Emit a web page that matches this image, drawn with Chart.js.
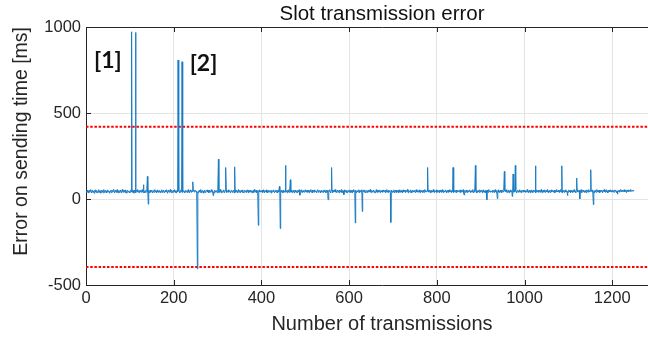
<!DOCTYPE html>
<html>
<head>
<meta charset="utf-8">
<script src="https://cdn.jsdelivr.net/npm/chart.js@4.4.1/dist/chart.umd.min.js"></script>
<style>
  html, body { margin: 0; padding: 0; background: #ffffff; overflow: hidden; }
  #wrap { width: 690px; height: 338px; }
</style>
</head>
<body>
<div id="wrap"><canvas id="c" width="690" height="338"></canvas></div>
<script>
// Tick values of both axes
const xTicks = [0, 200, 400, 600, 800, 1000, 1200];
const yTicks = [-500, 0, 500, 1000];

// Sending-time error [ms] for transmissions 0..1249
const baseline = [
  44,38,47,52,41,35,46,50,43,39,48,55,42,36,45,51,40,47,44,33,49,53,41,38,46,
  50,42,37,45,54,43,39,48,46,34,41,52,47,40,36,49,55,44,38,43,51,45,35,42,48,
  53,41,46,39,34,47,50,44,37,52,45,40,49,56,42,35,46,51,43,38,47,54,40,36,45,
  49,43,38,52,46,41,35,48,55,44,39,47,50,42,37,45,53,40,34,48,51,44,39,46,42,
  36,47,53,41,45,50,38,43,49,34,46,52,40,44,37,51,47,42,55,39,45,48,36,43,50,
  44,39,46,54,41,37,48,52,43,35,47,50,42,38,45,53,40,46,49,36,44,51,43,39,47,
  52,40,35,46,50,43,38,55,44,41,47,36,49,53,42,45,39,48,51,37,44,46,40,54,42,
  38,47,51,43,36,45,49,41,53,46,40,34,48,52,44,39,47,55,42,37,45,50,43,38,49,
  46,41,54,39,44,48,35,47,52,42,38,45,50,43,36,49,53,41,46,40,37,51,44,48,42,
  35,48,45,51,40,43,47,38,54,46,41,36,49,52,44,39,45,50,42,37,47,53,40,44,46,
  50,42,38,46,53,41,36,48,44,51,39,45,55,43,37,47,50,42,46,34,49,52,41,38,45,
  47,53,40,44,49,36,45,51,42,38,46,54,43,39,48,50,41,35,47,52,44,40,45,49,37,
  43,46,52,38,41,48,55,44,36,47,50,42,39,45,53,40,37,49,46,43,51,38,44,48,41,
  54,40,45,49,36,43,47,52,41,38,46,50,44,35,48,53,42,39,45,51,43,37,47,55,40,
  44,49,37,46,51,42,39,53,45,40,36,48,52,43,47,38,50,45,41,54,44,37,49,42,46,
  39,52,46,41,35,47,50,43,38,55,44,40,48,51,36,45,49,42,37,46,53,41,44,48,40,
  47,43,51,38,45,54,41,36,49,46,42,53,39,44,50,37,47,52,43,40,45,48,35,51,44,
  41,48,44,53,40,37,46,50,43,39,52,45,36,49,47,41,54,44,38,46,51,42,37,48,45,
  50,38,45,47,42,55,40,44,49,36,46,53,41,38,48,51,43,40,45,52,37,47,44,50,42,
  36,46,52,43,39,48,45,37,51,44,41,54,47,40,35,49,53,42,46,38,45,50,43,39,48,
  53,44,40,47,50,38,46,52,41,36,48,45,43,55,39,44,51,37,49,46,42,53,40,45,47,
  41,37,49,45,54,42,39,47,50,44,35,48,52,43,40,46,38,51,45,41,53,44,36,49,43,
  46,51,42,38,47,53,44,40,36,49,45,52,41,37,48,44,50,43,55,39,46,42,38,51,47,
  43,48,36,52,45,41,47,54,39,44,50,37,46,42,53,40,48,45,38,51,43,36,47,49,44,
  40,53,45,47,38,50,43,36,51,46,41,55,44,39,48,52,42,37,45,49,43,40,54,46,38,
  49,42,47,39,54,44,37,51,46,40,48,53,41,36,45,50,43,47,38,52,44,41,46,55,42,
  37,46,51,44,40,48,52,38,45,43,36,49,54,42,47,39,51,45,40,48,53,37,44,46,41,
  52,44,39,47,53,41,45,50,36,48,43,55,40,46,38,51,44,42,49,37,47,52,43,39,45,
  46,40,53,43,37,49,45,52,41,38,47,44,51,36,48,54,42,45,39,50,43,46,37,53,44,
  41,49,45,38,51,44,40,47,55,43,36,50,46,42,39,48,53,44,37,45,51,41,48,43,50,
  45,37,48,54,42,46,39,51,44,40,53,43,36,49,47,41,50,45,38,52,44,39,46,55,42,
  50,43,41,46,38,53,47,40,45,52,36,48,44,51,39,46,42,55,43,37,49,45,41,47,53,
  38,47,52,44,40,49,36,45,51,43,47,39,54,42,46,37,50,44,41,48,53,40,45,36,49,
  44,51,39,46,55,41,48,43,37,50,45,42,47,53,38,44,49,40,46,52,36,47,43,51,45,
  47,40,46,53,42,38,50,45,41,48,54,37,44,49,43,39,46,52,40,45,36,51,47,42,48,
  53,45,38,42,49,46,40,55,43,37,47,51,44,41,48,36,52,45,39,46,50,43,38,54,44,
  40,48,44,51,36,47,53,42,46,39,45,50,37,49,44,52,41,38,47,55,43,46,40,48,42,
  46,39,52,45,43,50,37,48,54,41,44,36,49,46,42,53,40,47,45,38,51,44,49,37,45,
  51,44,41,48,37,46,52,43,40,55,45,38,47,50,42,36,48,45,53,41,44,49,39,46,52,
  38,45,50,42,47,53,40,36,49,44,51,46,39,43,54,41,47,37,50,45,42,48,52,40,46,
  43,52,46,39,45,41,55,47,37,48,44,50,42,36,49,46,53,40,45,38,51,47,43,49,41,
  48,36,44,53,41,47,50,38,46,43,52,39,45,55,42,37,48,44,51,40,46,53,38,45,50,
  42,49,54,40,46,38,45,51,43,37,48,53,41,46,50,44,39,47,52,36,45,49,42,55,43,
  47,41,45,52,38,50,43,47,55,40,44,36,49,45,42,51,38,46,53,41,48,44,37,50,46,
  39,53,47,43,49,36,46,52,41,45,38,50,44,54,40,47,42,37,51,46,43,55,41,48,44,
  51,45,40,48,54,42,37,49,46,43,52,39,47,41,50,45,36,53,44,48,40,46,55,42,47,
  44,38,52,46,41,47,53,40,45,36,49,44,51,42,38,55,46,43,48,40,52,45,37,49,43,
  49,46,43,37,51,44,48,55,42,39,46,53,40,47,44,36,50,45,52,41,48,43,54,46,40,
  45,52,41,48,44,39,53,46,50,43,37,47,54,42,49,45,40,51,46,44,55,48,42,50,47,
  43,47,54,41,46,50,44,38,52,48,45,53,42,49,46,51,44,55,48,45,50,47,52,46,49
];

// Isolated outliers: transmission index and error [ms]
const spikeX = [104, 113, 131, 140, 142, 210, 219, 244, 254, 290, 302, 319, 339,
                393, 441, 443, 455, 466, 488, 552, 560, 588, 614, 630, 695, 779,
                837, 862, 888, 914, 938, 954, 972, 974, 979, 1025, 1085, 1098,
                1119, 1126, 1151, 1157, 1212];
const spikeY = [972, 968, 83, 131, -30, 808, 798, 100, -406, 20, 232, 183, 187,
                -153, 73, -172, 195, 112, 22, -4, 183, 25, -139, -72, -136, 183,
                183, 24, 195, -4, 2, 160, 15, 145, 195, 193, 193, 20,
                122, 0, 170, -33, 28];

// Tolerance levels [ms]
const limitLevels = [420, -395];

// Event tags and where they sit (transmission, ms)
const tagText = ['[1]', '[2]'];
const tagX = [50, 268];
const tagY = [806, 789];

// Merge the regular samples with the outliers into one ordered series
const merged = new Map();
baseline.forEach((v, i) => merged.set(i, v));
spikeX.forEach((x, i) => merged.set(x, spikeY[i]));
const series = [...merged.entries()].sort((a, b) => a[0] - b[0]).map(([x, y]) => ({ x, y }));

const X_MAX = 1350;
const AXIS_COLOR = '#262626';
const GRID_COLOR = '#e4e4e4';

Chart.defaults.font.family = "'Liberation Sans', Arial, sans-serif";

// Inward tick marks on the box, plus the bold event tags
const boxDecor = {
  id: 'boxDecor',
  beforeDatasetsDraw(chart) {
    const { ctx, chartArea: a, scales } = chart;
    ctx.save();
    ctx.strokeStyle = AXIS_COLOR;
    ctx.lineWidth = 1;
    ctx.beginPath();
    xTicks.forEach(v => {
      const px = Math.round(scales.x.getPixelForValue(v)) + 0.5;
      ctx.moveTo(px, a.top); ctx.lineTo(px, a.top + 5);
      ctx.moveTo(px, a.bottom); ctx.lineTo(px, a.bottom - 5);
    });
    yTicks.forEach(v => {
      const py = Math.round(scales.y.getPixelForValue(v)) + 0.5;
      ctx.moveTo(a.left, py); ctx.lineTo(a.left + 5, py);
    });
    ctx.stroke();
    ctx.restore();
  },
  afterDraw(chart) {
    const { ctx, scales } = chart;
    ctx.save();
    ctx.fillStyle = '#111111';
    ctx.font = "bold 23px Lato, 'Liberation Sans', sans-serif";
    ctx.textAlign = 'center';
    ctx.textBaseline = 'middle';
    tagText.forEach((t, i) => {
      ctx.fillText(t, scales.x.getPixelForValue(tagX[i]), scales.y.getPixelForValue(tagY[i]));
    });
    ctx.restore();
  }
};

const plainNumber = v => String(v);

new Chart(document.getElementById('c'), {
  type: 'line',
  data: {
    datasets: [
      {
        data: series,
        borderColor: '#1a7cc4',
        borderWidth: 1,
        pointRadius: 0,
        tension: 0,
        xAxisID: 'x',
        yAxisID: 'y'
      },
      ...limitLevels.map(v => ({
        data: [{ x: 0, y: v }, { x: X_MAX, y: v }],
        borderColor: '#ff0000',
        borderWidth: 2,
        borderDash: [2.5, 1.7],
        pointRadius: 0,
        xAxisID: 'x',
        yAxisID: 'y'
      }))
    ]
  },
  options: {
    responsive: false,
    animation: false,
    layout: { padding: { left: 0, right: 12, top: 0, bottom: 0 } },
    plugins: { legend: { display: false }, tooltip: { enabled: false }, title: { display: false } },
    scales: {
      x: {
        type: 'linear',
        position: 'bottom',
        min: 0,
        max: X_MAX,
        afterBuildTicks: s => { s.ticks = xTicks.map(v => ({ value: v })); },
        afterFit: s => { s.height = 53; },
        grid: { color: GRID_COLOR, drawTicks: false },
        border: { color: AXIS_COLOR, width: 1 },
        ticks: { color: AXIS_COLOR, padding: 4, maxRotation: 0, autoSkip: false,
                 callback: plainNumber, font: { size: 16.5 } },
        title: { display: true, text: 'Number of transmissions', color: AXIS_COLOR,
                 font: { size: 20 }, padding: { top: 0, bottom: 2 } }
      },
      xTop: {
        type: 'linear',
        position: 'top',
        min: 0,
        max: X_MAX,
        afterFit: s => { s.height = 27; },
        grid: { display: false, drawTicks: false },
        border: { display: true, color: AXIS_COLOR, width: 1 },
        ticks: { display: false },
        title: { display: true, text: 'Slot transmission error', color: '#111111',
                 font: { size: 20.5 }, padding: { top: 2, bottom: 0 } }
      },
      y: {
        type: 'linear',
        position: 'left',
        min: -500,
        max: 1000,
        afterBuildTicks: s => { s.ticks = yTicks.map(v => ({ value: v })); },
        afterFit: s => { s.width = 86; },
        grid: { color: GRID_COLOR, drawTicks: false },
        border: { color: AXIS_COLOR, width: 1 },
        ticks: { color: AXIS_COLOR, padding: 5, callback: plainNumber, font: { size: 16.5 } },
        title: { display: true, text: 'Error on sending time [ms]', color: AXIS_COLOR,
                 align: 'end', font: { size: 19.5 }, padding: { top: 10, bottom: 0 } }
      }
    }
  },
  plugins: [boxDecor]
});
</script>
</body>
</html>
